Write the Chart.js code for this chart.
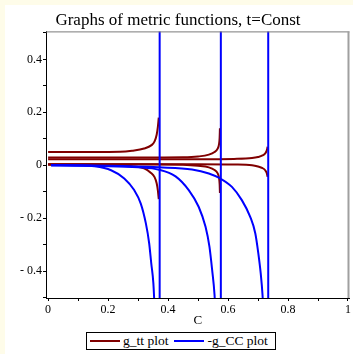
<!DOCTYPE html>
<html>
<head>
<meta charset="utf-8">
<script src="https://cdn.jsdelivr.net/npm/chart.js@4.4.1/dist/chart.umd.min.js"></script>
<style>
    body { margin: 0; background: #fefce9; width: 353px; height: 354px; overflow: hidden; position: relative; }
    #plot { position: absolute; left: 5px; top: 5px; background: #fff; }
    #legendBox {
        position: absolute; left: 86px; top: 332px; height: 18px; width: 190px;
        border: 1px solid #000; background: #fff;
        display: flex; align-items: center; box-sizing: border-box;
        font: 13.5px 'Liberation Serif', serif; color: #000;
    }
    .swatch { display: inline-block; width: 30px; height: 2px; margin: 0 3px 0 3px; }
</style>
</head>
<body>
<canvas id="plot" width="348" height="349"></canvas>
<div id="legendBox">
    <span class="swatch" style="background:#800000"></span><span>g_tt&nbsp;plot</span>
    <span class="swatch" style="background:#0000ff; margin-left:6px"></span><span>-g_CC&nbsp;plot</span>
</div>
<script>
// tick positions and labels
const xTicks = [0, 0.1, 0.2, 0.3, 0.4, 0.5, 0.6, 0.7, 0.8, 0.9, 1];
const xLabels = ['0', '', '0.2', '', '0.4', '', '0.6', '', '0.8', '', '1'];
const yTicks = [-0.5, -0.4, -0.3, -0.2, -0.1, 0, 0.1, 0.2, 0.3, 0.4, 0.5];
const yLabels = ['', '- 0.4', '', '- 0.2', '', '0', '', '0.2', '', '0.4', ''];

// singular points (blue vertical lines)
const poles = [0.372, 0.576, 0.734];

// g_tt branches, [C, value]
const gttUp1  = [[0, 0.05], [0.15, 0.05], [0.24, 0.051], [0.28, 0.055], [0.32, 0.063], [0.345, 0.076], [0.355, 0.09], [0.362, 0.115], [0.366, 0.145], [0.369, 0.18]];
const gttLow1 = [[0, 0.002], [0.15, 0.002], [0.23, 0.0], [0.28, -0.004], [0.32, -0.012], [0.342, -0.028], [0.355, -0.045], [0.362, -0.068], [0.366, -0.095], [0.369, -0.128]];
const gttUp2  = [[0, 0.029], [0.3, 0.029], [0.45, 0.03], [0.5, 0.033], [0.536, 0.04], [0.555, 0.05], [0.565, 0.062], [0.57, 0.08], [0.572, 0.105], [0.573, 0.14]];
const gttLow2 = [[0, 0.004], [0.3, 0.004], [0.45, 0.002], [0.5, -0.002], [0.536, -0.008], [0.555, -0.018], [0.565, -0.03], [0.57, -0.048], [0.572, -0.072], [0.573, -0.105]];
const gttUp3  = [[0, 0.023], [0.5, 0.023], [0.62, 0.024], [0.68, 0.027], [0.70, 0.031], [0.715, 0.037], [0.724, 0.045], [0.729, 0.055], [0.732, 0.07]];
const gttLow3 = [[0, 0.004], [0.5, 0.004], [0.62, 0.003], [0.68, 0.0], [0.70, -0.005], [0.715, -0.011], [0.724, -0.019], [0.729, -0.029], [0.732, -0.044]];

// -g_CC branches, [C, value]
const gcc1 = [[0.01, 0.0], [0.1, -0.001], [0.154, -0.004], [0.21, -0.019], [0.254, -0.05], [0.287, -0.094], [0.309, -0.145], [0.326, -0.22], [0.337, -0.295], [0.344, -0.371], [0.351, -0.446], [0.356, -0.56]];
const gcc2 = [[0.01, 0.0], [0.17, -0.003], [0.3, -0.008], [0.37, -0.017], [0.425, -0.042], [0.469, -0.094], [0.502, -0.157], [0.525, -0.233], [0.538, -0.308], [0.547, -0.396], [0.555, -0.49], [0.558, -0.56]];
const gcc3 = [[0.01, 0.0], [0.2, -0.002], [0.37, -0.008], [0.48, -0.016], [0.536, -0.031], [0.574, -0.05], [0.613, -0.082], [0.646, -0.132], [0.674, -0.195], [0.691, -0.258], [0.701, -0.333], [0.709, -0.409], [0.715, -0.49], [0.718, -0.56]];

const RED = '#800000';
const BLUE = '#0000ff';
const serif = 'Liberation Serif';

const toXY = arr => arr.map(p => ({ x: p[0], y: p[1] }));

function curve(arr, color) {
    return {
        data: toXY(arr), borderColor: color, borderWidth: 2,
        pointRadius: 0, fill: false, cubicInterpolationMode: 'monotone'
    };
}

const framePlugin = {
    id: 'frame',
    afterDraw(chart) {
        const { ctx, chartArea: { left, right, top, bottom } } = chart;
        ctx.save();
        ctx.strokeStyle = '#7a7a7a';
        ctx.lineWidth = 1;
        ctx.beginPath();
        ctx.moveTo(left, top + 0.5);
        ctx.lineTo(right, top + 0.5);
        ctx.stroke();
        ctx.strokeStyle = '#a0a0a0';
        ctx.lineWidth = 2;
        ctx.beginPath();
        ctx.moveTo(right - 1, top);
        ctx.lineTo(right - 1, bottom);
        ctx.stroke();
        ctx.restore();
    }
};

const datasets = [
    ...poles.map(c => ({
        data: [{ x: c, y: -0.6 }, { x: c, y: 0.6 }], borderColor: BLUE, borderWidth: 2, pointRadius: 0
    })),
    curve(gcc1, BLUE), curve(gcc2, BLUE), curve(gcc3, BLUE),
    curve(gttUp1, RED), curve(gttLow1, RED),
    curve(gttUp2, RED), curve(gttLow2, RED),
    curve(gttUp3, RED), curve(gttLow3, RED)
];

new Chart(document.getElementById('plot'), {
    type: 'line',
    data: { datasets },
    plugins: [framePlugin],
    options: {
        responsive: false,
        animation: false,
        layout: { padding: { left: 0, right: 2, top: 0, bottom: 26 } },
        plugins: {
            legend: { display: false },
            tooltip: { enabled: false },
            title: {
                display: true, text: 'Graphs of metric functions, t=Const', color: '#000',
                font: { family: serif, size: 17, weight: 'normal' }, padding: { top: 5, bottom: 1 }
            }
        },
        scales: {
            x: {
                type: 'linear', min: -0.007, max: 1.005,
                afterBuildTicks: s => { s.ticks = xTicks.map(v => ({ value: v })); },
                afterFit: s => { s.height = 30; },
                ticks: { callback: (v, i) => xLabels[i], color: '#000', font: { family: serif, size: 12 }, padding: 2, maxRotation: 0, autoSkip: false },
                grid: { drawOnChartArea: false, tickLength: 3, color: '#000' },
                border: { color: '#000', width: 1 },
                title: { display: true, text: 'C', color: '#000', font: { family: serif, size: 13 }, padding: 0 }
            },
            y: {
                min: -0.502, max: 0.506,
                afterBuildTicks: s => { s.ticks = yTicks.map(v => ({ value: v })); },
                afterFit: s => { s.width = 41; },
                ticks: { callback: (v, i) => yLabels[i], color: '#000', font: { family: serif, size: 12 }, padding: 1, autoSkip: false },
                grid: { drawOnChartArea: false, tickLength: 3, color: '#000' },
                border: { color: '#000', width: 1 }
            }
        }
    }
});
</script>
</body>
</html>
